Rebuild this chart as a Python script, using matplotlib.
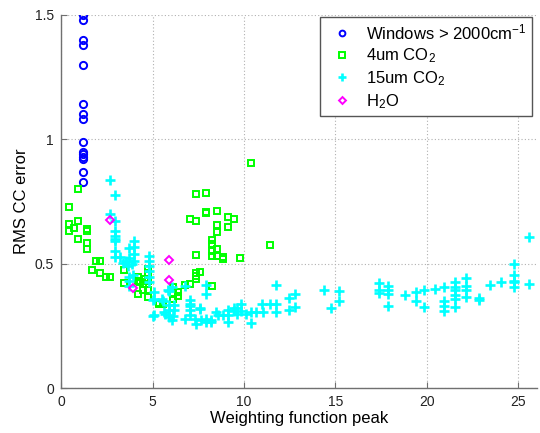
import matplotlib
matplotlib.use("Agg")
import matplotlib.pyplot as plt

plt.rcParams['font.family'] = ['Liberation Sans', 'DejaVu Sans']
plt.rcParams['mathtext.fontset'] = 'custom'
plt.rcParams['mathtext.rm'] = 'Liberation Sans'
plt.rcParams['mathtext.it'] = 'Liberation Sans:italic'

# Windows channels above 2000 cm-1
win_x = [1.2] * 15
win_y = [1.50, 1.48, 1.40, 1.38, 1.30, 1.14, 1.10, 1.08, 0.99, 0.95,
         0.94, 0.93, 0.92, 0.87, 0.83]

# 4 micron CO2 channels
co2_4_x = [0.44, 0.94, 0.44, 0.94, 0.71, 0.44, 1.42, 1.42, 0.94, 1.42,
           1.42, 1.90, 2.15, 1.67, 2.15, 2.45, 2.67, 3.42, 3.42, 4.22,
           4.22, 4.22, 4.49, 4.49, 4.31, 4.58, 4.77, 4.77, 4.77, 4.77,
           4.77, 5.33, 5.33, 5.58, 6.14, 6.14, 6.14, 6.42, 6.42, 6.76,
           7.04, 7.35, 7.35, 7.35, 7.62, 7.35, 8.26, 7.04, 7.35, 7.35,
           7.95, 7.95, 7.95, 8.55, 9.13, 9.46, 8.55, 9.13, 8.55, 8.26,
           8.26, 8.55, 8.26, 8.26, 8.55, 8.85, 8.85, 9.80, 11.40, 10.40]
co2_4_y = [0.73, 0.80, 0.66, 0.67, 0.645, 0.63, 0.64, 0.63, 0.60, 0.585,
           0.56, 0.513, 0.513, 0.477, 0.463, 0.449, 0.449, 0.477, 0.422, 0.446,
           0.433, 0.38, 0.42, 0.395, 0.428, 0.44, 0.48, 0.463, 0.433, 0.393,
           0.367, 0.342, 0.337, 0.34, 0.408, 0.38, 0.36, 0.388, 0.37, 0.416,
           0.42, 0.462, 0.45, 0.44, 0.469, 0.536, 0.41, 0.68, 0.673, 0.78,
           0.786, 0.71, 0.706, 0.713, 0.687, 0.68, 0.656, 0.646, 0.627, 0.597,
           0.58, 0.56, 0.55, 0.53, 0.533, 0.526, 0.52, 0.524, 0.577, 0.906]

# 15 micron CO2 channels
co2_15_x = [2.67, 2.95, 2.67, 2.95, 2.95, 2.95, 2.95, 2.95, 2.95, 2.95,
            3.20, 3.98, 3.98, 3.71, 3.98, 3.71, 3.98, 3.55, 3.40, 3.90,
            3.67, 4.82, 4.82, 4.82, 4.82, 4.82, 4.82, 3.71, 3.71, 3.95,
            3.71, 5.07, 5.07, 5.07, 5.58, 5.53, 5.91, 5.91, 5.91, 5.91,
            5.91, 6.18, 6.18, 6.13, 6.04, 5.67, 5.64, 5.85, 6.04, 6.76,
            7.04, 7.04, 7.04, 7.04, 7.04, 6.76, 7.31, 7.40, 7.62, 7.67,
            7.91, 7.91, 8.22, 8.22, 7.95, 7.95, 8.49, 8.58, 8.85, 9.13,
            9.13, 9.13, 9.46, 9.46, 9.62, 9.62, 9.82, 9.82, 10.13, 10.40,
            10.40, 10.68, 11.00, 11.04, 11.40, 11.77, 11.77, 11.77, 12.45, 12.45,
            12.80, 12.80, 14.36, 14.77, 15.18, 15.18, 17.37, 17.37, 17.37, 17.86,
            17.86, 17.86, 17.86, 18.82, 19.40, 19.40, 19.86, 19.86, 20.44, 20.95,
            20.95, 20.95, 20.95, 21.53, 21.53, 21.53, 21.53, 21.53, 21.53, 22.13,
            22.13, 22.13, 22.13, 22.82, 22.85, 23.44, 24.04, 24.77, 24.77, 24.77,
            24.77, 24.77, 25.55, 25.55, 5.04, 5.04, 7.58]
co2_15_y = [0.836, 0.777, 0.702, 0.673, 0.633, 0.613, 0.60, 0.59, 0.553, 0.527,
            0.527, 0.593, 0.566, 0.564, 0.54, 0.524, 0.513, 0.513, 0.502, 0.50,
            0.49, 0.533, 0.513, 0.49, 0.47, 0.446, 0.427, 0.446, 0.433, 0.457,
            0.413, 0.386, 0.36, 0.293, 0.35, 0.36, 0.39, 0.333, 0.313, 0.296,
            0.285, 0.333, 0.313, 0.29, 0.273, 0.30, 0.306, 0.393, 0.409, 0.413,
            0.353, 0.34, 0.33, 0.313, 0.296, 0.28, 0.28, 0.257, 0.324, 0.273,
            0.28, 0.267, 0.273, 0.266, 0.417, 0.377, 0.306, 0.293, 0.293, 0.313,
            0.293, 0.266, 0.324, 0.309, 0.324, 0.30, 0.337, 0.31, 0.297, 0.306,
            0.262, 0.306, 0.337, 0.306, 0.34, 0.337, 0.306, 0.417, 0.364, 0.316,
            0.38, 0.326, 0.396, 0.324, 0.39, 0.35, 0.424, 0.396, 0.384, 0.413,
            0.396, 0.38, 0.329, 0.373, 0.386, 0.35, 0.393, 0.326, 0.40, 0.406,
            0.35, 0.329, 0.31, 0.426, 0.406, 0.393, 0.373, 0.357, 0.326, 0.442,
            0.413, 0.393, 0.366, 0.362, 0.355, 0.416, 0.426, 0.50, 0.456, 0.433,
            0.426, 0.406, 0.609, 0.42, 0.356, 0.289, 0.32]

# Water vapour channels
h2o_x = [2.67, 3.95, 5.91, 5.91]
h2o_y = [0.677, 0.402, 0.516, 0.437]

labels = ['Windows > 2000cm$^{-1}$', '4um CO$_2$', '15um CO$_2$', 'H$_2$O']

fig = plt.figure(figsize=(5.40, 4.33), dpi=100)
ax = fig.add_axes([0.113, 0.103, 0.881, 0.863])

ax.plot(win_x, win_y, linestyle='none', marker='o', ms=5.2, mfc='none',
        mec='#0000ff', mew=1.4, label=labels[0])
ax.plot(co2_4_x, co2_4_y, linestyle='none', marker='s', ms=4.6, mfc='none',
        mec='#00ff00', mew=1.4, label=labels[1])
ax.plot(co2_15_x, co2_15_y, linestyle='none', marker='+', ms=6.8,
        mec='#00ffff', mew=1.9, label=labels[2])
ax.plot(h2o_x, h2o_y, linestyle='none', marker='D', ms=4.4, mfc='none',
        mec='#ff00ff', mew=1.4, label=labels[3])

ax.set_xlim(0, 26)
ax.set_ylim(0, 1.5)
ax.set_xticks([0, 5, 10, 15, 20, 25])
ax.set_yticks([0, 0.5, 1, 1.5])
ax.set_yticklabels(['0', '0.5', '1', '1.5'])

ax.grid(True, color='#b0b0b0', linestyle=(0, (1, 2)), linewidth=0.8)
ax.set_axisbelow(True)

for side in ('top', 'right'):
    ax.spines[side].set_visible(False)
for side in ('left', 'bottom'):
    ax.spines[side].set_color('#707070')
    ax.spines[side].set_linewidth(1.0)

ax.tick_params(direction='in', length=4, width=0.8, color='#707070',
               labelsize=10, labelcolor='#222222', pad=5)

ax.set_xlabel('Weighting function peak', fontsize=12, labelpad=1)
ax.set_ylabel('RMS CC error', fontsize=12, labelpad=4)

leg = ax.legend(loc='upper right', bbox_to_anchor=(0.989, 0.993),
                borderaxespad=0, fontsize=12, frameon=True, fancybox=False,
                handlelength=2.0, handletextpad=0.45, labelspacing=0.25,
                borderpad=0.3, markerscale=0.8)
leg.get_frame().set_edgecolor('#555555')
leg.get_frame().set_linewidth(1.0)
leg.get_frame().set_alpha(1.0)

fig.savefig('out.png', dpi=100)
